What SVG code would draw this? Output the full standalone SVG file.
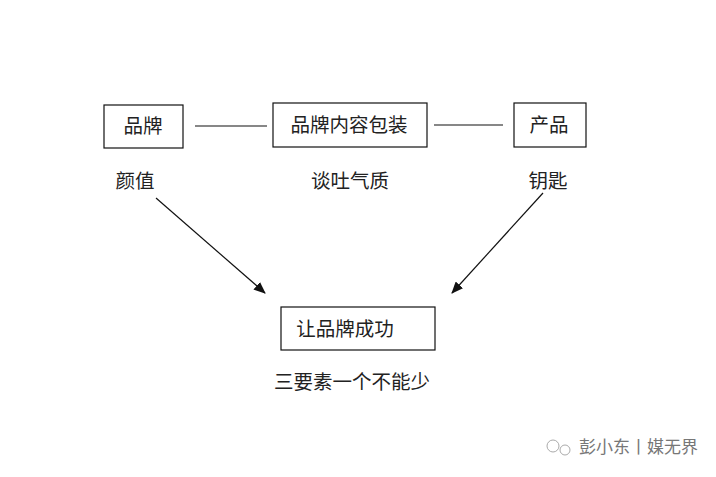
<svg xmlns="http://www.w3.org/2000/svg" width="716" height="477" viewBox="0 0 716 477">
<defs>
<style>
.box{fill:#fff;stroke:#111;stroke-width:1.2}
.t{font-family:"Liberation Sans","Noto Sans CJK SC",sans-serif;font-size:19.5px;fill:#222;text-anchor:middle}
.ln{stroke:#111;stroke-width:1.2;fill:none}
.wm{font-family:"Liberation Sans","Noto Sans CJK SC",sans-serif;font-size:17px;fill:#777}
.ic{fill:none;stroke:#aaa;stroke-width:1}
</style>
<marker id="ah" viewBox="0 0 12 10" refX="11" refY="5" markerWidth="12" markerHeight="10" markerUnits="userSpaceOnUse" orient="auto">
<path d="M0,0 L12,5 L0,10 z" fill="#111"/>
</marker>
</defs>
<rect width="716" height="477" fill="#fff"/>
<g id="connectors">
<line class="ln" x1="195" y1="126" x2="267" y2="126"/>
<line class="ln" x1="434" y1="125" x2="503" y2="125"/>
<line class="ln" x1="156" y1="198" x2="265" y2="293" marker-end="url(#ah)"/>
<line class="ln" x1="543" y1="193" x2="452" y2="293" marker-end="url(#ah)"/>
</g>
<g id="brand">
<rect class="box" x="104" y="105" width="79" height="43"/>
<text class="t" x="143" y="133">品牌</text>
<text class="t" x="135" y="188">颜值</text>
</g>
<g id="content">
<rect class="box" x="273" y="103" width="154" height="44"/>
<text class="t" x="349" y="132">品牌内容包装</text>
<text class="t" x="350" y="188">谈吐气质</text>
</g>
<g id="product">
<rect class="box" x="514" y="103" width="72" height="44"/>
<text class="t" x="549" y="132">产品</text>
<text class="t" x="548" y="188">钥匙</text>
</g>
<g id="success">
<rect class="box" x="281" y="307" width="154" height="43"/>
<text class="t" x="345" y="336">让品牌成功</text>
<text class="t" x="352" y="389">三要素一个不能少</text>
</g>
<g id="watermark">
<circle class="ic" cx="553" cy="446" r="6"/>
<circle class="ic" cx="565" cy="450" r="5"/>
<text class="wm" x="579" y="453">彭小东丨媒无界</text>
</g>
</svg>
